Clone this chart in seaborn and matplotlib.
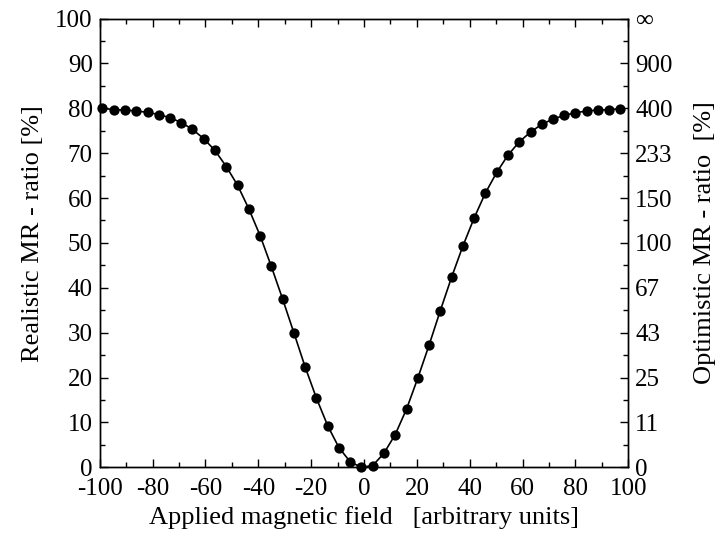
import matplotlib
matplotlib.use("Agg")
import matplotlib.pyplot as plt
import seaborn as sns
import pandas as pd
from matplotlib.ticker import MultipleLocator

field = [-99.0, -94.7, -90.5, -86.2, -81.9, -77.7, -73.4, -69.1, -64.9, -60.6,
         -56.4, -52.1, -47.8, -43.6, -39.3, -35.1, -30.8, -26.5, -22.3, -18.0,
         -13.7, -9.5, -5.2, -1.0, 3.3, 7.5, 11.8, 16.1, 20.3, 24.6,
         28.8, 33.1, 37.4, 41.7, 45.9, 50.2, 54.4, 58.7, 63.0, 67.2,
         71.5, 75.7, 80.0, 84.3, 88.5, 92.8, 97.0]
mr = [80.0, 79.7, 79.6, 79.4, 79.1, 78.6, 77.9, 76.8, 75.3, 73.2,
      70.6, 67.0, 62.8, 57.6, 51.6, 44.8, 37.5, 29.9, 22.4, 15.4,
      9.2, 4.4, 1.2, 0.0, 0.4, 3.1, 7.3, 13.0, 19.8, 27.2,
      34.8, 42.3, 49.3, 55.6, 61.1, 65.7, 69.5, 72.5, 74.7, 76.4,
      77.6, 78.4, 79.0, 79.4, 79.6, 79.7, 79.9]
left_ticks = [0, 10, 20, 30, 40, 50, 60, 70, 80, 90, 100]
right_labels = ["0", "11", "25", "43", "67", "100", "150", "233", "400", "900", "\u221e"]
x_ticks = [-100, -80, -60, -40, -20, 0, 20, 40, 60, 80, 100]

df = pd.DataFrame({"field": field, "mr": mr})

sns.set_theme(style="ticks")
plt.rcParams["font.family"] = ["Liberation Serif", "DejaVu Serif"]
plt.rcParams["text.color"] = "black"
plt.rcParams["axes.labelcolor"] = "black"
plt.rcParams["xtick.color"] = "black"
plt.rcParams["ytick.color"] = "black"
plt.rcParams["axes.linewidth"] = 1.0

TICK_FS = 18
LABEL_FS = 19

fig = plt.figure(figsize=(7.18, 5.38), dpi=100)
ax = fig.add_axes([0.1389, 0.1314, 0.8751 - 0.1389, 0.9656 - 0.1314])

sns.lineplot(data=df, x="field", y="mr", ax=ax, color="black", linewidth=1.2, sort=True)
sns.scatterplot(data=df, x="field", y="mr", ax=ax, color="black", s=55,
                edgecolor="black", linewidth=0, zorder=3, clip_on=False)

ax.set_xlim(-100, 100)
ax.set_ylim(0, 100)
ax.set_xticks(x_ticks)
ax.set_xticklabels([str(t) for t in x_ticks])
ax.set_yticks(left_ticks)
ax.set_yticklabels([str(t) for t in left_ticks])
ax.xaxis.set_minor_locator(MultipleLocator(10))
ax.yaxis.set_minor_locator(MultipleLocator(5))
ax.tick_params(axis="both", which="major", direction="in", length=6, width=1,
               labelsize=TICK_FS, colors="black", top=True, bottom=True)
ax.tick_params(axis="both", which="minor", direction="in", length=3.5, width=1,
               top=True, bottom=True)
ax.tick_params(axis="y", which="both", right=False, left=True)
ax.tick_params(axis="y", which="major", pad=5)
ax.tick_params(axis="x", which="major", pad=8)
ax.set_xlabel("Applied magnetic field   [arbitrary units]", fontsize=LABEL_FS, labelpad=4)
ax.set_ylabel("Realistic MR - ratio [%]", fontsize=LABEL_FS, labelpad=8)
ax.yaxis.label.set_y(0.52)

ax2 = ax.twinx()
ax2.set_ylim(0, 100)
ax2.set_yticks(left_ticks)
ax2.set_yticklabels(right_labels)
ax2.yaxis.set_minor_locator(MultipleLocator(5))
ax2.tick_params(axis="y", which="major", direction="in", length=6, width=1,
                labelsize=TICK_FS, pad=5, colors="black")
ax2.tick_params(axis="y", which="minor", direction="in", length=3.5, width=1)
ax2.set_ylabel("Optimistic MR - ratio  [%]", fontsize=LABEL_FS, labelpad=15)

for a in (ax, ax2):
    for s in a.spines.values():
        s.set_visible(True)
        s.set_linewidth(1.0)
        s.set_color("black")

fig.savefig("out.png", dpi=100)
